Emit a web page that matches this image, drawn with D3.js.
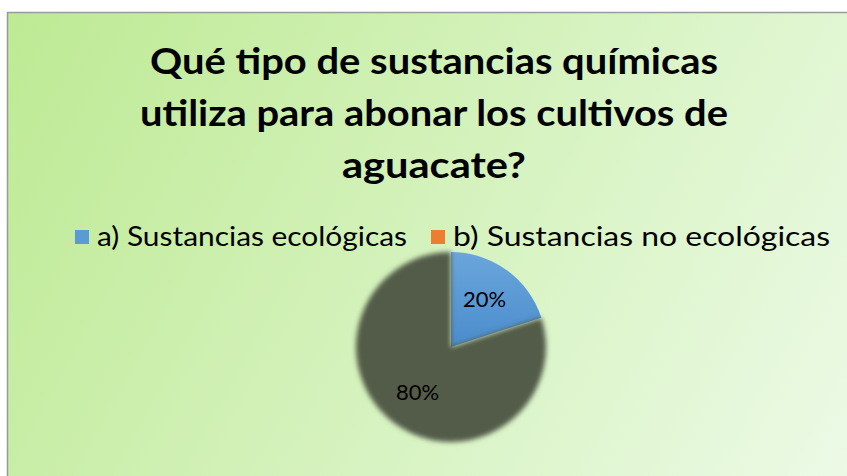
<html>
  <head>
    <meta charset="utf-8">
    <title>Sustancias químicas - aguacate</title>
  </head>
  <style>
    body { margin: 0; background: #fff; }
    text { font-family: Lato, "Open Sans", sans-serif; }
  </style>
  <body>
    <script src="https://d3js.org/d3.v7.min.js"></script>
    <script>

    var width = 847,
        height = 476;

    // data
    var categories = ["a) Sustancias ecológicas", "b) Sustancias no ecológicas"];
    var values = [20, 80];
    var legendColors = ["#5b9bd5", "#ed7d31"];
    var sliceColors = ["#5b9bd5", "#525c4a"];
    var titleLines = ["Qué tipo de sustancias químicas", "utiliza para abonar los cultivos de", "aguacate?"];

    var svg = d3.select("body").append("svg")
        .attr("width", width)
        .attr("height", height);

    var defs = svg.append("defs");

    var bg = defs.append("linearGradient").attr("id", "bg")
        .attr("gradientUnits", "userSpaceOnUse")
        .attr("x1", 8).attr("y1", 12).attr("x2", 847).attr("y2", 476);
    bg.append("stop").attr("offset", 0).attr("stop-color", "#bdea93");
    bg.append("stop").attr("offset", 1).attr("stop-color", "#ecfae6");

    var blue = defs.append("linearGradient").attr("id", "blueGrad")
        .attr("x1", 0).attr("y1", 0).attr("x2", 0).attr("y2", 1);
    blue.append("stop").attr("offset", 0).attr("stop-color", "#6aa6dc");
    blue.append("stop").attr("offset", 1).attr("stop-color", "#4a8ccc");

    var soft = defs.append("filter").attr("id", "soft")
        .attr("x", -0.2).attr("y", -0.2).attr("width", 1.4).attr("height", 1.4);
    soft.append("feGaussianBlur").attr("stdDeviation", 2.8);

    // chart area
    svg.append("rect")
        .attr("x", 7.5).attr("y", 12.5)
        .attr("width", 860).attr("height", 480)
        .attr("fill", "url(#bg)")
        .attr("stroke", "#9a9a9a").attr("stroke-width", 1.5);

    // title (widths matched to the reference lines)
    var titleWidths = [568, 588, 184];
    svg.append("g").selectAll("text").data(titleLines)
        .enter().append("text")
        .attr("x", 434)
        .attr("y", function(d, i){ return 74 + i * 52; })
        .attr("text-anchor", "middle")
        .attr("font-size", 37)
        .attr("font-weight", "bold")
        .attr("fill", "#000")
        .attr("textLength", function(d, i){ return titleWidths[i]; })
        .attr("lengthAdjust", "spacingAndGlyphs")
        .text(function(d){ return d; });

    // legend
    var legendX = [75, 431];
    var legendWidths = [310, 377];
    var legend = svg.append("g").selectAll("g").data(categories)
        .enter().append("g")
        .attr("transform", function(d, i){ return "translate(" + legendX[i] + ",237)"; });
    legend.append("rect")
        .attr("x", 0).attr("y", -7).attr("width", 14).attr("height", 14)
        .attr("fill", function(d, i){ return legendColors[i]; });
    legend.append("text")
        .attr("x", 22).attr("y", 9)
        .attr("font-size", 27)
        .attr("fill", "#000")
        .attr("textLength", function(d, i){ return legendWidths[i]; })
        .attr("lengthAdjust", "spacingAndGlyphs")
        .text(function(d){ return d; });

    // pie
    var cx = 451, cy = 347, r = 95;
    var pie = d3.pie().sort(null)(values);
    var arc = d3.arc().innerRadius(0).outerRadius(r);
    var labelArc = d3.arc().innerRadius(r * 0.6).outerRadius(r * 0.6);

    var g = svg.append("g").attr("transform", "translate(" + cx + "," + cy + ")");

    g.selectAll("path").data(pie)
        .enter().append("path")
        .attr("d", arc)
        .attr("fill", function(d, i){ return i === 0 ? "url(#blueGrad)" : sliceColors[i]; })
        .attr("filter", function(d, i){ return i === 1 ? "url(#soft)" : null; });

    g.selectAll("text").data(pie)
        .enter().append("text")
        .attr("transform", function(d){ return "translate(" + labelArc.centroid(d) + ")"; })
        .attr("dy", "0.3em")
        .attr("text-anchor", "middle")
        .attr("font-size", 22)
        .attr("fill", "#000")
        .text(function(d){ return d.data + "%"; });

    </script>
  </body>
</html>
